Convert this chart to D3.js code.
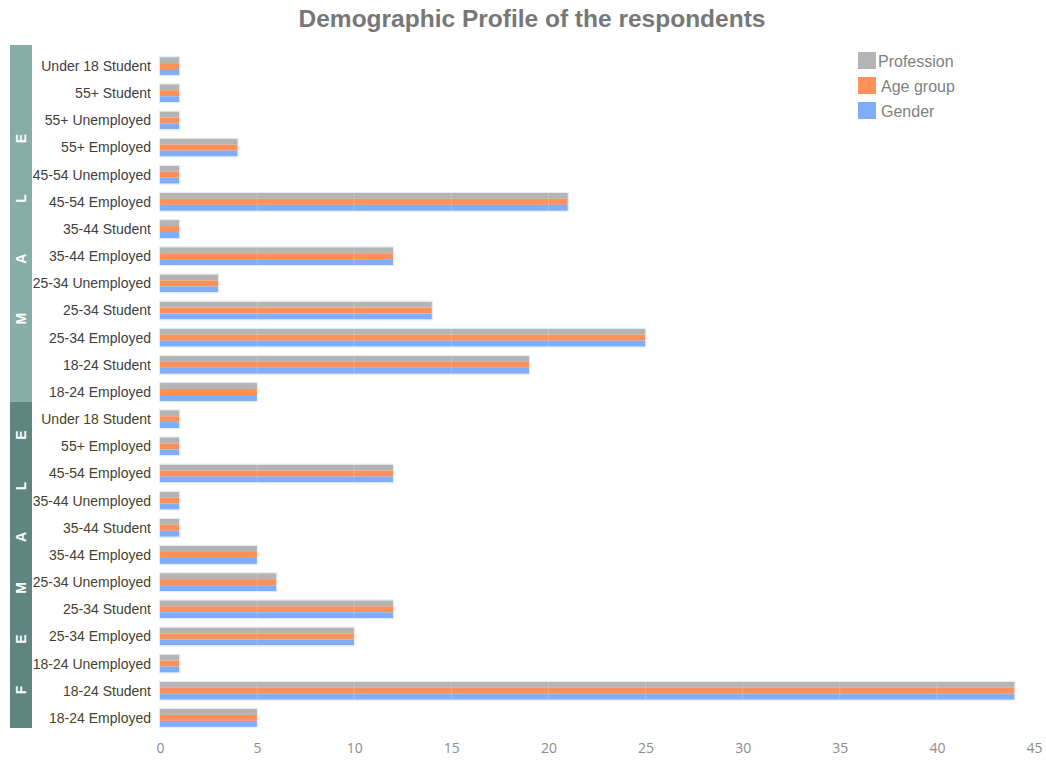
<!DOCTYPE html>
<html><head><meta charset="utf-8">
<script src="https://cdn.jsdelivr.net/npm/d3@7"></script>
<style>body{margin:0;background:#fff;}svg{display:block;font-family:"Liberation Sans",Arial,sans-serif;}</style>
</head><body><svg id="c" width="1046" height="760"></svg>
<script>
const maleCategories = ["Under 18 Student","55+ Student","55+ Unemployed","55+ Employed","45-54 Unemployed","45-54 Employed","35-44 Student","35-44 Employed","25-34 Unemployed","25-34 Student","25-34 Employed","18-24 Student","18-24 Employed"];
const maleValues = [1,1,1,4,1,21,1,12,3,14,25,19,5];
const femaleCategories = ["Under 18 Student","55+ Employed","45-54 Employed","35-44 Unemployed","35-44 Student","35-44 Employed","25-34 Unemployed","25-34 Student","25-34 Employed","18-24 Unemployed","18-24 Student","18-24 Employed"];
const femaleValues = [1,1,12,1,1,5,6,12,10,1,44,5];
const seriesNames = ["Profession","Age group","Gender"];
const seriesColors = ["#b4b4b4","#fe9159","#80adf8"];
const xTicks = [0,5,10,15,20,25,30,35,40,45];
const groups = [{name:"MALE", cats: maleCategories, vals: maleValues, color:"#86ada8", text:"#404040"},
                {name:"FEMALE", cats: femaleCategories, vals: femaleValues, color:"#5f8581", text:"#45422a"}];

const rows = [];
groups.forEach((g,gi)=>g.cats.forEach((c,i)=>rows.push({key:gi+"|"+c, cat:c, gi, values: seriesNames.map(()=>g.vals[i])})));

const svg = d3.select("#c");
const x = d3.scaleLinear().domain([0,45]).range([160,1034]);
const y = d3.scaleBand().domain(rows.map(r=>r.key)).range([52.5,731.5]).paddingInner(0.34).paddingOuter(0.17);
const ySub = d3.scaleBand().domain(seriesNames).range([0,y.bandwidth()]);

svg.append("text").attr("x",532).attr("y",27).attr("text-anchor","middle")
  .attr("font-size",24.5).attr("font-weight","bold").attr("fill","#777777").text("Demographic Profile of the respondents");

// side bands
const step = y.step();
const letterLayout = [{first:83, gap:60},{first:38, gap:51}];
let start = 0;
groups.forEach((g,gi)=>{
  const n = g.cats.length;
  const top = gi===0 ? 45 : y(rows[start].key) - y.paddingInner()*step/2 - 4;
  const bot = gi===0 ? y(rows[start+n-1].key)+y.bandwidth()+y.paddingInner()*step/2 - 4 : 728;
  svg.append("rect").attr("x",10).attr("y",top).attr("width",22).attr("height",bot-top).attr("fill",g.color);
  const letters = g.name.split("");
  letters.forEach((L,i)=>{
    const cy = bot - letterLayout[gi].first - letterLayout[gi].gap*i;
    svg.append("text").attr("transform",`translate(21,${cy}) rotate(-90)`).attr("text-anchor","middle")
      .attr("dy","0.36em").attr("font-size",14).attr("font-weight","bold").attr("fill","#ffffff").text(L);
  });
  start += n;
});

// labels
svg.append("g").selectAll("text").data(rows).join("text")
  .attr("x",151).attr("y",d=>y(d.key)+y.bandwidth()/2).attr("dy","0.35em").attr("text-anchor","end")
  .attr("font-size",14).attr("fill",d=>groups[d.gi].text).text(d=>d.cat);

// bars
const rg = svg.append("g").selectAll("g").data(rows).join("g").attr("transform",d=>`translate(0,${y(d.key)})`);
rg.selectAll("rect").data(d=>d.values.map((v,i)=>({v,s:seriesNames[i],c:seriesColors[i]}))).join("rect")
  .attr("x",x(0)).attr("y",d=>ySub(d.s)).attr("width",d=>x(d.v)-x(0)).attr("height",ySub.bandwidth())
  .attr("fill",d=>d.c);
rg.append("rect").attr("x",x(0)-0.5).attr("y",-0.5).attr("width",d=>x(d.values[0])-x(0)+1).attr("height",y.bandwidth()+1)
  .attr("fill","none").attr("stroke","#e6ecf4").attr("stroke-width",1);

// faint grid
svg.append("g").selectAll("line").data(xTicks.slice(1,-1)).join("line")
  .attr("x1",d=>x(d)).attr("x2",d=>x(d)).attr("y1",52).attr("y2",732)
  .attr("stroke","#ffffff").attr("stroke-opacity",0.2);

// x axis
const ax = svg.append("g").attr("transform","translate(0,743)")
  .call(d3.axisBottom(x).tickValues(xTicks).tickSize(0).tickPadding(0));
ax.select(".domain").remove();
ax.selectAll("text").attr("font-size",14).attr("fill","#8c8c8c").attr("font-family","'Open Sans','Liberation Sans',sans-serif");

// legend
const lg = svg.append("g").attr("transform","translate(858,52)");
seriesNames.forEach((s,i)=>{
  const g = lg.append("g").attr("transform",`translate(0,${i*25})`);
  g.append("rect").attr("width",18).attr("height",17).attr("fill",seriesColors[i]);
  g.append("text").attr("x",i===0?20:23).attr("y",9).attr("dy","0.35em").attr("font-size",16).attr("fill","#808080").text(s);
});
</script></body></html>
